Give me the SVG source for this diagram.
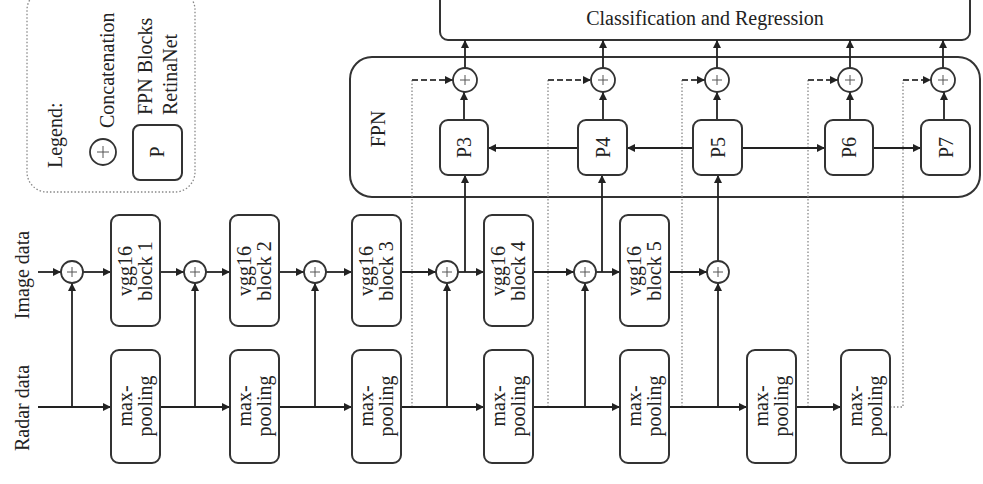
<svg xmlns="http://www.w3.org/2000/svg" width="983" height="484" viewBox="0 0 983 484">
<defs>
<marker id="ah" viewBox="0 0 10 10" refX="10" refY="5" markerWidth="9" markerHeight="8" markerUnits="userSpaceOnUse" orient="auto"><path d="M0,0 L10,5 L0,10 z" fill="#222"/></marker>
<style>
text{font-family:"Liberation Serif","Times New Roman",serif;font-size:20px;fill:#222}
.box{fill:#fff;stroke:#333;stroke-width:2}
.big{fill:#fff;stroke:#333;stroke-width:2}
.leg{fill:#fff;stroke:#888;stroke-width:1.3;stroke-dasharray:1.5 2}
.circ{fill:#fff;stroke:#333;stroke-width:1.8}
.plus{stroke:#555;stroke-width:1;fill:none}
.ln{fill:none;stroke:#222;stroke-width:1.8}
.arr{fill:none;stroke:#222;stroke-width:1.8;marker-end:url(#ah)}
.dot{fill:none;stroke:#888;stroke-width:1.3;stroke-dasharray:1.5 2}
.dash{fill:none;stroke:#444;stroke-width:1.8;stroke-dasharray:6 3;marker-end:url(#ah)}
</style>
</defs>
<rect width="983" height="484" fill="#fff"/>

<g id="legend">
<rect class="leg" x="27" y="-10" width="168" height="202" rx="20"/>
<text transform="translate(62 168) rotate(-90)">Legend:</text>
<circle class="circ" cx="103" cy="152" r="13"/>
<path class="plus" d="M97,152 H109 M103,146 V158"/>
<text transform="translate(114 128) rotate(-90)">Concatenation</text>
<rect class="box" x="133" y="125" width="49" height="55" rx="7"/>
<text transform="translate(157 152) rotate(-90)" text-anchor="middle" dominant-baseline="central">P</text>
<text transform="translate(152 115) rotate(-90)">FPN Blocks</text>
<text transform="translate(177 115) rotate(-90)">RetinaNet</text>
</g>

<g id="classification">
<rect class="big" x="440" y="-12" width="530" height="52" rx="8"/>
<text x="705" y="25" text-anchor="middle">Classification and Regression</text>
</g>

<g id="fpn">
<rect class="big" x="350" y="57" width="630" height="140" rx="22"/>
<text transform="translate(385 129) rotate(-90)" text-anchor="middle">FPN</text>
</g>

<g id="labels">
<text transform="translate(29 275) rotate(-90)" text-anchor="middle">Image data</text>
<text transform="translate(29 408) rotate(-90)" text-anchor="middle">Radar data</text>
</g>

<g id="connectors">
<!-- dotted lateral lines -->
<path class="dot" d="M412,407 V80"/>
<path class="dot" d="M548,407 V80"/>
<path class="dot" d="M682,407 V80"/>
<path class="dot" d="M808,407 V80"/>
<path class="dot" d="M890,407 H903 V80"/>
<path class="dash" d="M412,80 H453"/>
<path class="dash" d="M548,80 H591"/>
<path class="dash" d="M682,80 H705"/>
<path class="dash" d="M808,80 H838"/>
<path class="dash" d="M903,80 H931"/>
<!-- image row -->
<path class="arr" d="M38,272 H61"/>
<path class="arr" d="M83,272 H111"/>
<path class="arr" d="M160,272 H184"/>
<path class="arr" d="M206,272 H230"/>
<path class="arr" d="M279,272 H304"/>
<path class="arr" d="M326,272 H352"/>
<path class="arr" d="M401,272 H436"/>
<path class="arr" d="M458,272 H484"/>
<path class="arr" d="M533,272 H574"/>
<path class="arr" d="M596,272 H620"/>
<path class="arr" d="M669,272 H707"/>
<path class="arr" d="M465,272 V175"/>
<path class="arr" d="M602,272 V175"/>
<path class="arr" d="M718,261 V175"/>
<!-- radar row -->
<path class="arr" d="M38,407 H111"/>
<path class="arr" d="M72,407 V283"/>
<path class="arr" d="M160,407 H230"/>
<path class="arr" d="M195,407 V283"/>
<path class="arr" d="M279,407 H352"/>
<path class="arr" d="M315,407 V283"/>
<path class="arr" d="M401,407 H484"/>
<path class="arr" d="M447,407 V283"/>
<path class="arr" d="M533,407 H620"/>
<path class="arr" d="M585,407 V283"/>
<path class="arr" d="M669,407 H747"/>
<path class="arr" d="M718,407 V283"/>
<path class="arr" d="M796,407 H841"/>
<!-- FPN internal -->
<path class="arr" d="M578,148 H488"/>
<path class="arr" d="M693,148 H627"/>
<path class="arr" d="M742,148 H825"/>
<path class="arr" d="M873,148 H921"/>
<path class="arr" d="M464,120 V92"/>
<path class="arr" d="M603,120 V92"/>
<path class="arr" d="M717,120 V92"/>
<path class="arr" d="M850,120 V92"/>
<path class="arr" d="M944,120 V92"/>
<path class="arr" d="M465,68 V40"/>
<path class="arr" d="M603,68 V40"/>
<path class="arr" d="M717,68 V40"/>
<path class="arr" d="M850,68 V40"/>
<path class="arr" d="M943,68 V40"/>
</g>

<g id="concat-img1"><circle class="circ" cx="72" cy="272" r="11"/><path class="plus" d="M67,272 H77 M72,267 V277"/></g>
<g id="concat-img2"><circle class="circ" cx="195" cy="272" r="11"/><path class="plus" d="M190,272 H200 M195,267 V277"/></g>
<g id="concat-img3"><circle class="circ" cx="315" cy="272" r="11"/><path class="plus" d="M310,272 H320 M315,267 V277"/></g>
<g id="concat-img4"><circle class="circ" cx="447" cy="272" r="11"/><path class="plus" d="M442,272 H452 M447,267 V277"/></g>
<g id="concat-img5"><circle class="circ" cx="585" cy="272" r="11"/><path class="plus" d="M580,272 H590 M585,267 V277"/></g>
<g id="concat-img6"><circle class="circ" cx="718" cy="272" r="11"/><path class="plus" d="M713,272 H723 M718,267 V277"/></g>

<g id="concat-fpn3"><circle class="circ" cx="465" cy="80" r="12"/><path class="plus" d="M460,80 H470 M465,75 V85"/></g>
<g id="concat-fpn4"><circle class="circ" cx="603" cy="80" r="12"/><path class="plus" d="M598,80 H608 M603,75 V85"/></g>
<g id="concat-fpn5"><circle class="circ" cx="717" cy="80" r="12"/><path class="plus" d="M712,80 H722 M717,75 V85"/></g>
<g id="concat-fpn6"><circle class="circ" cx="850" cy="80" r="12"/><path class="plus" d="M845,80 H855 M850,75 V85"/></g>
<g id="concat-fpn7"><circle class="circ" cx="943" cy="80" r="12"/><path class="plus" d="M938,80 H948 M943,75 V85"/></g>

<g id="vgg1"><rect class="box" x="111" y="215" width="49" height="111" rx="8"/><text transform="translate(135.5 271) rotate(-90)" text-anchor="middle"><tspan x="0" y="-4">vgg16</tspan><tspan x="0" y="16">block 1</tspan></text></g>
<g id="vgg2"><rect class="box" x="230" y="215" width="49" height="111" rx="8"/><text transform="translate(254.5 271) rotate(-90)" text-anchor="middle"><tspan x="0" y="-4">vgg16</tspan><tspan x="0" y="16">block 2</tspan></text></g>
<g id="vgg3"><rect class="box" x="352" y="215" width="49" height="111" rx="8"/><text transform="translate(376.5 271) rotate(-90)" text-anchor="middle"><tspan x="0" y="-4">vgg16</tspan><tspan x="0" y="16">block 3</tspan></text></g>
<g id="vgg4"><rect class="box" x="484" y="215" width="49" height="111" rx="8"/><text transform="translate(508.5 271) rotate(-90)" text-anchor="middle"><tspan x="0" y="-4">vgg16</tspan><tspan x="0" y="16">block 4</tspan></text></g>
<g id="vgg5"><rect class="box" x="620" y="215" width="49" height="111" rx="8"/><text transform="translate(644.5 271) rotate(-90)" text-anchor="middle"><tspan x="0" y="-4">vgg16</tspan><tspan x="0" y="16">block 5</tspan></text></g>

<g id="pool1"><rect class="box" x="111" y="350" width="49" height="113" rx="8"/><text transform="translate(135.5 406) rotate(-90)" text-anchor="middle"><tspan x="0" y="-4">max-</tspan><tspan x="0" y="16">pooling</tspan></text></g>
<g id="pool2"><rect class="box" x="230" y="350" width="49" height="113" rx="8"/><text transform="translate(254.5 406) rotate(-90)" text-anchor="middle"><tspan x="0" y="-4">max-</tspan><tspan x="0" y="16">pooling</tspan></text></g>
<g id="pool3"><rect class="box" x="352" y="350" width="49" height="113" rx="8"/><text transform="translate(376.5 406) rotate(-90)" text-anchor="middle"><tspan x="0" y="-4">max-</tspan><tspan x="0" y="16">pooling</tspan></text></g>
<g id="pool4"><rect class="box" x="484" y="350" width="49" height="113" rx="8"/><text transform="translate(508.5 406) rotate(-90)" text-anchor="middle"><tspan x="0" y="-4">max-</tspan><tspan x="0" y="16">pooling</tspan></text></g>
<g id="pool5"><rect class="box" x="620" y="350" width="49" height="113" rx="8"/><text transform="translate(644.5 406) rotate(-90)" text-anchor="middle"><tspan x="0" y="-4">max-</tspan><tspan x="0" y="16">pooling</tspan></text></g>
<g id="pool6"><rect class="box" x="747" y="350" width="49" height="113" rx="8"/><text transform="translate(771.5 406) rotate(-90)" text-anchor="middle"><tspan x="0" y="-4">max-</tspan><tspan x="0" y="16">pooling</tspan></text></g>
<g id="pool7"><rect class="box" x="841" y="350" width="49" height="113" rx="8"/><text transform="translate(865.5 406) rotate(-90)" text-anchor="middle"><tspan x="0" y="-4">max-</tspan><tspan x="0" y="16">pooling</tspan></text></g>

<g id="p3"><rect class="box" x="440" y="120" width="48" height="55" rx="8"/><text transform="translate(464 147.5) rotate(-90)" text-anchor="middle" dominant-baseline="central">P3</text></g>
<g id="p4"><rect class="box" x="578" y="120" width="49" height="55" rx="8"/><text transform="translate(602.5 147.5) rotate(-90)" text-anchor="middle" dominant-baseline="central">P4</text></g>
<g id="p5"><rect class="box" x="693" y="120" width="49" height="55" rx="8"/><text transform="translate(717.5 147.5) rotate(-90)" text-anchor="middle" dominant-baseline="central">P5</text></g>
<g id="p6"><rect class="box" x="825" y="120" width="48" height="55" rx="8"/><text transform="translate(849 147.5) rotate(-90)" text-anchor="middle" dominant-baseline="central">P6</text></g>
<g id="p7"><rect class="box" x="921" y="120" width="49" height="55" rx="8"/><text transform="translate(945.5 147.5) rotate(-90)" text-anchor="middle" dominant-baseline="central">P7</text></g>
</svg>
